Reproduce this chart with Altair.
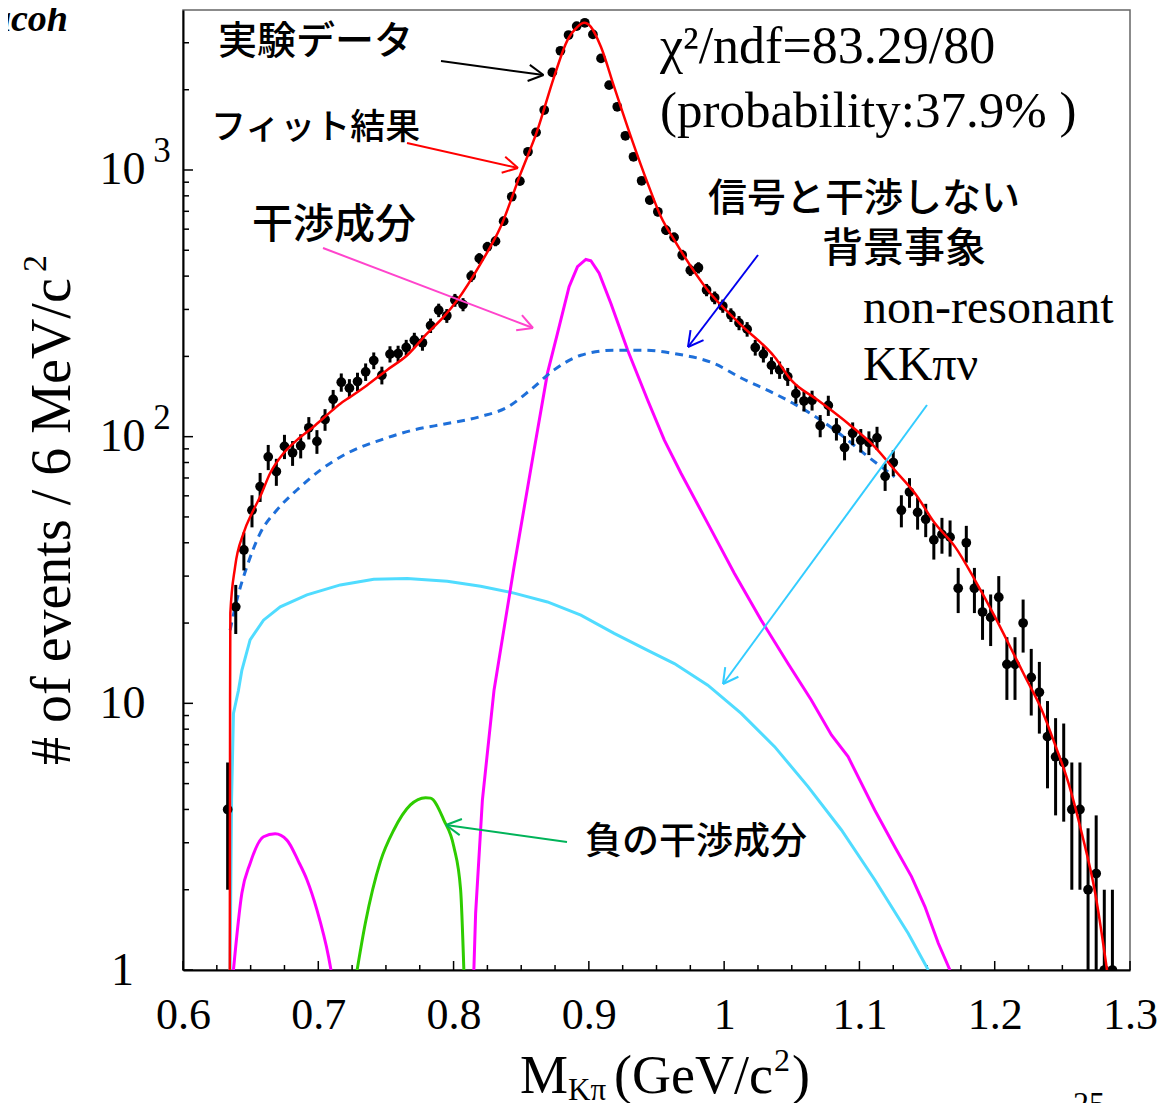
import math
import altair as alt
import pandas as pd

# ---------------- data ----------------
bin_centers = [
    0.633, 0.639, 0.645, 0.651, 0.657, 0.663, 0.669, 0.675, 0.681, 0.687,
    0.693, 0.699, 0.705, 0.711, 0.717, 0.723, 0.729, 0.735, 0.741, 0.747,
    0.753, 0.759, 0.765, 0.771, 0.777, 0.783, 0.789, 0.795, 0.801, 0.807,
    0.813, 0.819, 0.825, 0.831, 0.837, 0.843, 0.849, 0.855, 0.861, 0.867,
    0.873, 0.879, 0.885, 0.891, 0.897, 0.903, 0.909, 0.915, 0.921, 0.927,
    0.933, 0.939, 0.945, 0.951, 0.957, 0.963, 0.969, 0.975, 0.981, 0.987,
    0.993, 0.999, 1.005, 1.011, 1.017, 1.023, 1.029, 1.035, 1.041, 1.047,
    1.053, 1.059, 1.065, 1.071, 1.077, 1.083, 1.089, 1.095, 1.101, 1.107,
    1.113, 1.119, 1.125, 1.131, 1.137, 1.143, 1.149, 1.155, 1.161, 1.167,
    1.173, 1.179, 1.185, 1.191, 1.197, 1.203, 1.209, 1.215, 1.221, 1.227,
    1.233, 1.239, 1.245, 1.251, 1.257, 1.263, 1.269, 1.275, 1.281, 1.287,
]
counts = [
    4.0, 23, 37.6, 53, 65, 84, 74, 92, 87, 92.5,
    108, 96, 116, 138, 160, 152, 161, 175, 193, 170,
    204, 205, 216, 230, 225, 261, 298, 284, 325, 313,
    400, 466, 515, 541, 643, 794, 908, 1170, 1384, 1678,
    2323, 2800, 3207, 3465, 3565, 3225, 2621, 2081, 1726, 1344,
    1121, 911, 771, 697, 595, 559, 480, 421, 430, 355,
    332, 309, 286, 267, 253, 216, 204, 185, 178, 168,
    145, 136, 137, 110, 131, 107, 91, 103, 97, 95,
    99, 71, 80, 53, 62, 52, 49, 41, 43, 42,
    27, 40, 27, 22, 21, 25, 14, 14, 20, 12.5,
    11, 7.5, 6.3, 6, 4, 4, 2, 2.3, 1, 1,
]
count_err = [
    2.0, 4.8, 6.1, 7.3, 8.1, 9.1, 8.6, 9.6, 9.3, 9.6,
    10.4, 9.8, 10.8, 11.7, 12.6, 12.3, 12.7, 13.2, 13.9, 13.0,
    14.3, 14.3, 14.7, 15.2, 15.0, 16.2, 17.3, 16.9, 18.0, 17.7,
    20.0, 21.6, 22.7, 23.3, 25.4, 28.2, 30.1, 34.2, 37.2, 41.0,
    48.2, 52.9, 56.6, 58.9, 59.7, 56.8, 51.2, 45.6, 41.5, 36.7,
    33.5, 30.2, 27.8, 26.4, 24.4, 23.6, 21.9, 20.5, 20.7, 18.8,
    18.2, 17.6, 16.9, 16.3, 15.9, 14.7, 14.3, 13.6, 13.3, 13.0,
    12.0, 11.7, 11.7, 10.5, 11.4, 10.3, 9.5, 10.1, 9.8, 9.7,
    9.9, 8.4, 8.9, 7.3, 7.9, 7.2, 7.0, 6.4, 6.6, 6.5,
    5.2, 6.3, 5.2, 4.7, 4.6, 5.0, 3.7, 3.7, 4.5, 3.5,
    3.3, 2.7, 2.5, 2.4, 2.0, 2.0, 1.4, 1.5, 1.0, 1.0,
]

# total fit (red)
fit_x = [0.6346, 0.6348, 0.6350, 0.6385, 0.6447, 0.6509, 0.6570, 0.6644, 0.6743, 0.6842,
         0.6965, 0.7064, 0.7163, 0.7237, 0.7361, 0.7509, 0.7657, 0.7805, 0.7928, 0.8027,
         0.8200, 0.8348, 0.8496, 0.8620, 0.8743, 0.8842, 0.8916, 0.8965, 0.9015, 0.9089,
         0.9187, 0.9311, 0.9435, 0.9533, 0.9632, 0.9879, 1.0126, 1.0373, 1.0496, 1.0694,
         1.0916, 1.1113, 1.1261, 1.1410, 1.1558, 1.1706, 1.1854, 1.2002, 1.2101, 1.2224,
         1.2348, 1.2447, 1.2546, 1.2644, 1.2743, 1.2830]
fit_y = [1.0, 10.3, 21.8, 32.5, 43.4, 51.6, 59.5, 72.9, 86.6, 97.1,
         109, 120.5, 133, 141, 156, 178, 202, 244, 282, 325,
         446, 612, 971, 1411, 2236, 3070, 3443, 3565, 3443, 2897,
         2051, 1332, 891, 668, 546, 354, 262, 199, 163, 137,
         112, 91.6, 74.9, 61.3, 47.3, 38.7, 29.0, 21.1, 16.8, 12.6,
         9.44, 6.98, 5.01, 3.25, 1.94, 1.0]

# background not interfering with the signal (blue dashed)
bkg_x = [0.6348, 0.6398, 0.6472, 0.6570, 0.6694, 0.6842, 0.7015, 0.7213, 0.7459, 0.7706,
         0.7953, 0.8200, 0.8398, 0.8570, 0.8743, 0.8941, 0.9187, 0.9407, 0.9632, 0.9926,
         1.0126, 1.0373, 1.0595, 1.0817, 1.1064, 1.1261]
bkg_y = [18.8, 24.4, 32.5, 43.4, 53.1, 63.1, 74.9, 86.6, 97.1, 106,
         112, 119, 129, 150, 178, 202, 211, 211, 205, 188,
         166, 145, 126, 106, 84.1, 70.7]

# interference component, main lobe (magenta)
intf_x = [0.8150, 0.8163, 0.8213, 0.8299, 0.8447, 0.8595, 0.8694, 0.8768, 0.8854, 0.8916,
          0.8978, 0.9015, 0.9076, 0.9163, 0.9287, 0.9435, 0.9558, 0.9681, 0.9879, 1.0076,
          1.0274, 1.0472, 1.0644, 1.0793, 1.0916, 1.1113, 1.1261, 1.1385, 1.1484, 1.1583,
          1.1669]
intf_y = [1.0, 1.63, 4.34, 11.2, 32.5, 89.1, 173, 244, 365, 434,
          462, 457, 410, 316, 211, 137, 97.1, 72.9, 47.3, 30.7,
          20.5, 14.1, 10.3, 7.61, 6.31, 3.98, 2.90, 2.24, 1.73, 1.26,
          1.0]

# interference component, small lobe (magenta)
intf2_x = [0.6373, 0.6435, 0.6496, 0.6595, 0.6681, 0.6768, 0.6854, 0.6916, 0.6990, 0.7076, 0.7094]
intf2_y = [1.0, 1.94, 2.51, 3.16, 3.24, 3.07, 2.55, 2.18, 1.68, 1.12, 1.0]

# negative interference component (green)
neg_x = [0.7287, 0.7348, 0.7459, 0.7558, 0.7681, 0.7793, 0.7830, 0.7928, 0.8002, 0.8052, 0.8076]
neg_y = [1.0, 1.50, 2.55, 3.35, 4.16, 4.43, 4.41, 3.65, 2.90, 2.0, 1.0]

# non-resonant KK pi nu (cyan)
nr_x = [0.6348, 0.6359, 0.6373, 0.6410, 0.6435, 0.6496, 0.6595, 0.6719, 0.6916, 0.7163,
        0.7410, 0.7657, 0.7953, 0.8200, 0.8447, 0.8694, 0.8941, 0.9187, 0.9435, 0.9632,
        0.9879, 1.0126, 1.0373, 1.0620, 1.0867, 1.1113, 1.1361, 1.1509]
nr_y = [1.0, 4.34, 9.17, 11.2, 13.3, 17.3, 20.5, 23.0, 25.5, 27.8,
        29.2, 29.4, 28.7, 27.5, 25.9, 24.0, 21.4, 18.3, 15.8, 14.1,
        11.7, 9.17, 6.88, 4.87, 3.35, 2.18, 1.37, 1.0]

x_major = [0.6, 0.7, 0.8, 0.9, 1.0, 1.1, 1.2, 1.3]
x_minor = [0.625, 0.65, 0.675, 0.725, 0.75, 0.775, 0.825, 0.85, 0.875, 0.925, 0.95, 0.975,
           1.025, 1.05, 1.075, 1.125, 1.15, 1.175, 1.225, 1.25, 1.275]
y_major = [1, 10, 100, 1000]
y_minor = [2, 3, 4, 5, 6, 7, 8, 9, 20, 30, 40, 50, 60, 70, 80, 90,
           200, 300, 400, 500, 600, 700, 800, 900, 2000, 3000]
y_exponents = [100, 1000]
y_exponent_text = ["2", "3"]

# ---------------- layout ----------------
W, H = 947, 960
XD = [0.6, 1.3]
YD = [1, 3981]
SERIF = "Liberation Serif"
JP = "Noto Sans CJK JP"

xsc = alt.Scale(domain=XD, nice=False, zero=False)
ysc = alt.Scale(type="log", domain=YD, nice=False)
xax = alt.Axis(values=x_major, title=None, grid=False, ticks=False, tickSize=0,
               domain=True, domainColor="black", domainWidth=2,
               labelFont=SERIF, labelFontSize=44, labelColor="black",
               labelPadding=23, labelBaseline="top", labelAlign="center",
               labelFlush=False, labelOverlap=False, labelOffset=0,
               labelExpr="abs(datum.value - 1) < 0.001 ? '1' : format(datum.value, '.1f')")
yax = alt.Axis(values=y_major, title=None, grid=False, ticks=False, tickSize=0,
               domain=True, domainColor="black", domainWidth=2,
               labelFont=SERIF, labelFontSize=46, labelColor="black",
               labelPadding=61, labelBaseline="middle", labelAlign="center",
               labelFlush=False, labelOverlap=False,
               labelExpr="datum.value >= 10 ? '10' : '1'")


def X(f):
    return alt.X(f, type="quantitative", scale=xsc, axis=xax)


def Y(f):
    return alt.Y(f, type="quantitative", scale=ysc, axis=yax)


def curve(xs, ys, color, width, dash=None, interp="linear"):
    df = pd.DataFrame({"x": xs, "y": ys, "o": list(range(len(xs)))})
    kw = dict(color=color, strokeWidth=width, interpolate=interp, clip=True)
    if dash:
        kw["strokeDash"] = dash
    return alt.Chart(df).mark_line(**kw).encode(x=X("x"), y=Y("y"), order="o:Q")


def label(text, px, py, size, font, color="black", align="left", baseline="middle",
          weight="normal", style="normal", angle=0):
    return alt.Chart(alt.Data(values=[{}])).mark_text(
        text=text, font=font, fontSize=size, color=color, align=align,
        baseline=baseline, fontWeight=weight, fontStyle=style, angle=angle
    ).encode(x=alt.value(px), y=alt.value(py))


layers = []


# ticks (inward, ROOT style)
def xticks(vals, L):
    return alt.Chart(pd.DataFrame({"t": vals})).mark_rule(color="black", strokeWidth=1.5).encode(
        x=X("t"), y=alt.value(H), y2=alt.value(H - L))


def yticks(vals, L):
    return alt.Chart(pd.DataFrame({"t": vals})).mark_rule(color="black", strokeWidth=1.5).encode(
        y=Y("t"), x=alt.value(0), x2=alt.value(L))


layers += [xticks(x_major, 9), xticks(x_minor, 5), yticks(y_major, 10), yticks(y_minor, 6)]

# component curves
layers.append(curve(nr_x, nr_y, "#50dcff", 3))
layers.append(curve(intf_x, intf_y, "#ff00ff", 3))
layers.append(curve(intf2_x, intf2_y, "#ff00ff", 3, interp="monotone"))
layers.append(curve(neg_x, neg_y, "#2ecc00", 3, interp="monotone"))
layers.append(curve(bkg_x, bkg_y, "#1e6fd9", 3, dash=[8, 6], interp="monotone"))

# data points with error bars
pts = pd.DataFrame({"x": bin_centers, "n": counts, "e": count_err})
pts["lo"] = (pts["n"] - pts["e"]).clip(lower=0.3)
pts["hi"] = pts["n"] + pts["e"]
layers.append(alt.Chart(pts).mark_rule(color="black", strokeWidth=3, clip=True).encode(
    x=X("x"), y=Y("lo"), y2="hi"))
layers.append(alt.Chart(pts).mark_circle(color="black", size=95, opacity=1, clip=True).encode(
    x=X("x"), y=Y("n")))

# total fit on top
layers.append(curve(fit_x, fit_y, "#ff0000", 2.5, interp="monotone"))

# annotation arrows: (tail_x, tail_y, head_x, head_y) in plot pixels, colour
arrows = [
    (258, 51, 360.5, 65, "#000000"),
    (224, 133, 335, 158, "#ff0000"),
    (140, 238, 350, 318, "#ff44cc"),
    (575, 245, 505, 337, "#0000ee"),
    (744, 395, 540, 674, "#33ccff"),
    (384, 832, 263, 815, "#00b359"),
]
LOGMAX = math.log10(YD[1])


def to_x(px):
    return XD[0] + px / W * (XD[1] - XD[0])


def to_y(py):
    return 10 ** ((H - py) / H * LOGMAX)


rows = []
for tx, ty, hx, hy, c in arrows:
    rows.append(dict(x=to_x(tx), y=to_y(ty), x2=to_x(hx), y2=to_y(hy), c=c))
    a = math.atan2(hy - ty, hx - tx)
    for s in (1, -1):
        wx = hx + 17 * math.cos(a + math.pi - s * 0.5)
        wy = hy + 17 * math.sin(a + math.pi - s * 0.5)
        rows.append(dict(x=to_x(hx), y=to_y(hy), x2=to_x(wx), y2=to_y(wy), c=c))
arrow_df = pd.DataFrame(rows)
layers.append(alt.Chart(arrow_df).mark_rule(strokeWidth=2).encode(
    x=X("x"), y=Y("y"), x2="x2", y2="y2", color=alt.Color("c:N", scale=None)))

# superscript exponents of the y tick labels
exp_df = pd.DataFrame({"v": y_exponents, "t": y_exponent_text})
layers.append(alt.Chart(exp_df).mark_text(font=SERIF, fontSize=35, color="black",
                                          align="center", baseline="middle", dy=-19).encode(
    y=Y("v"), x=alt.value(-21), text="t:N"))

# text annotations
layers += [
    label("実験データ", 35, 32, 39, JP, weight=500),
    label("フィット結果", 28, 118, 35, JP, weight=500),
    label("干渉成分", 69, 216, 41, JP, weight=500),
    label("信号と干渉しない", 525, 189, 39, JP, weight=500),
    label("背景事象", 639, 240, 41, JP, weight=500),
    label("負の干渉成分", 402, 833, 37, JP, weight=500),
    label("χ²/ndf=83.29/80", 477, 53, 52, SERIF, baseline="alphabetic"),
    label("(probability:37.9% )", 477, 117, 51, SERIF, baseline="alphabetic"),
    label("non-resonant", 680, 313, 48, SERIF, baseline="alphabetic"),
    label("KKπν", 680, 370, 48, SERIF, baseline="alphabetic"),
    # y axis title (with a raised superscript)
    label("# of events / 6 MeV/c", -113, 755, 56, SERIF, align="left",
          baseline="alphabetic", angle=270),
    label("2", -137, 262, 34, SERIF, align="left", baseline="alphabetic", angle=270),
    # x axis title
    label("M", 337, 1083, 54, SERIF, baseline="alphabetic"),
    label("Kπ", 385, 1090, 31, SERIF, baseline="alphabetic"),
    label("(GeV/c", 431, 1083, 54, SERIF, baseline="alphabetic"),
    label("2", 591, 1061, 32, SERIF, baseline="alphabetic"),
    label(")", 609, 1083, 54, SERIF, baseline="alphabetic"),
    # slide residues
    label("acoh", -115, 21, 38, SERIF, align="right", baseline="alphabetic",
          weight="bold", style="italic"),
    label("25", 890, 1104, 32, SERIF, baseline="alphabetic"),
]

chart = alt.layer(*layers).properties(
    width=W, height=H,
    autosize=alt.AutoSizeParams(type="none"),
    padding={"left": 175, "top": 2, "right": 27, "bottom": 133},
    background="white",
).configure_view(stroke="#666666", strokeWidth=1.5)

chart.save("out.html", embed_options={"renderer": "svg", "actions": False})
